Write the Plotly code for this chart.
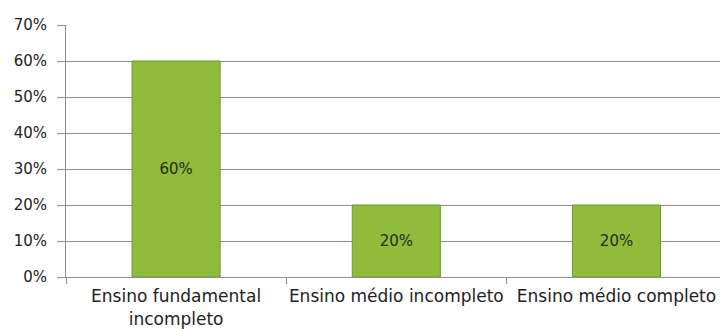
import plotly.graph_objects as go

categories = ["Ensino fundamental<br>incompleto", "Ensino médio incompleto", "Ensino médio completo"]
values = [0.60, 0.20, 0.20]
labels = ["60%", "20%", "20%"]
y_ticks = [0, 0.1, 0.2, 0.3, 0.4, 0.5, 0.6, 0.7]

fig = go.Figure(
    go.Bar(
        x=categories,
        y=values,
        text=labels,
        textposition="inside",
        insidetextanchor="middle",
        textangle=0,
        textfont=dict(family="DejaVu Sans", size=15, color="#1f2d12"),
        marker=dict(color="#90bb3b", line=dict(color="#6f962a", width=1)),
        width=0.4,
        hoverinfo="skip",
    )
)

fig.update_layout(
    width=720,
    height=329,
    margin=dict(l=66, r=0, t=25, b=52),
    plot_bgcolor="white",
    paper_bgcolor="white",
    showlegend=False,
    font=dict(family="DejaVu Sans", size=15, color="#222222"),
)

fig.update_xaxes(
    range=[-0.5, 2.47],
    showline=True,
    linecolor="#8c8c8c",
    linewidth=1,
    ticks="outside",
    tickson="boundaries",
    ticklen=6,
    tickcolor="#8c8c8c",
    showgrid=False,
    tickangle=0,
    automargin=False,
    tickfont=dict(size=17, color="#222222"),
    ticklabelstandoff=4,
)

fig.update_yaxes(
    range=[0, 0.7],
    tickvals=y_ticks,
    tickformat=".0%",
    showline=True,
    linecolor="#8c8c8c",
    linewidth=1,
    ticks="outside",
    ticklen=8,
    tickcolor="#8c8c8c",
    showgrid=True,
    gridcolor="#8c8c8c",
    gridwidth=1,
    zeroline=False,
    automargin=False,
    tickfont=dict(size=15, color="#222222"),
    ticklabelstandoff=7,
)

fig.write_html("out.html")
